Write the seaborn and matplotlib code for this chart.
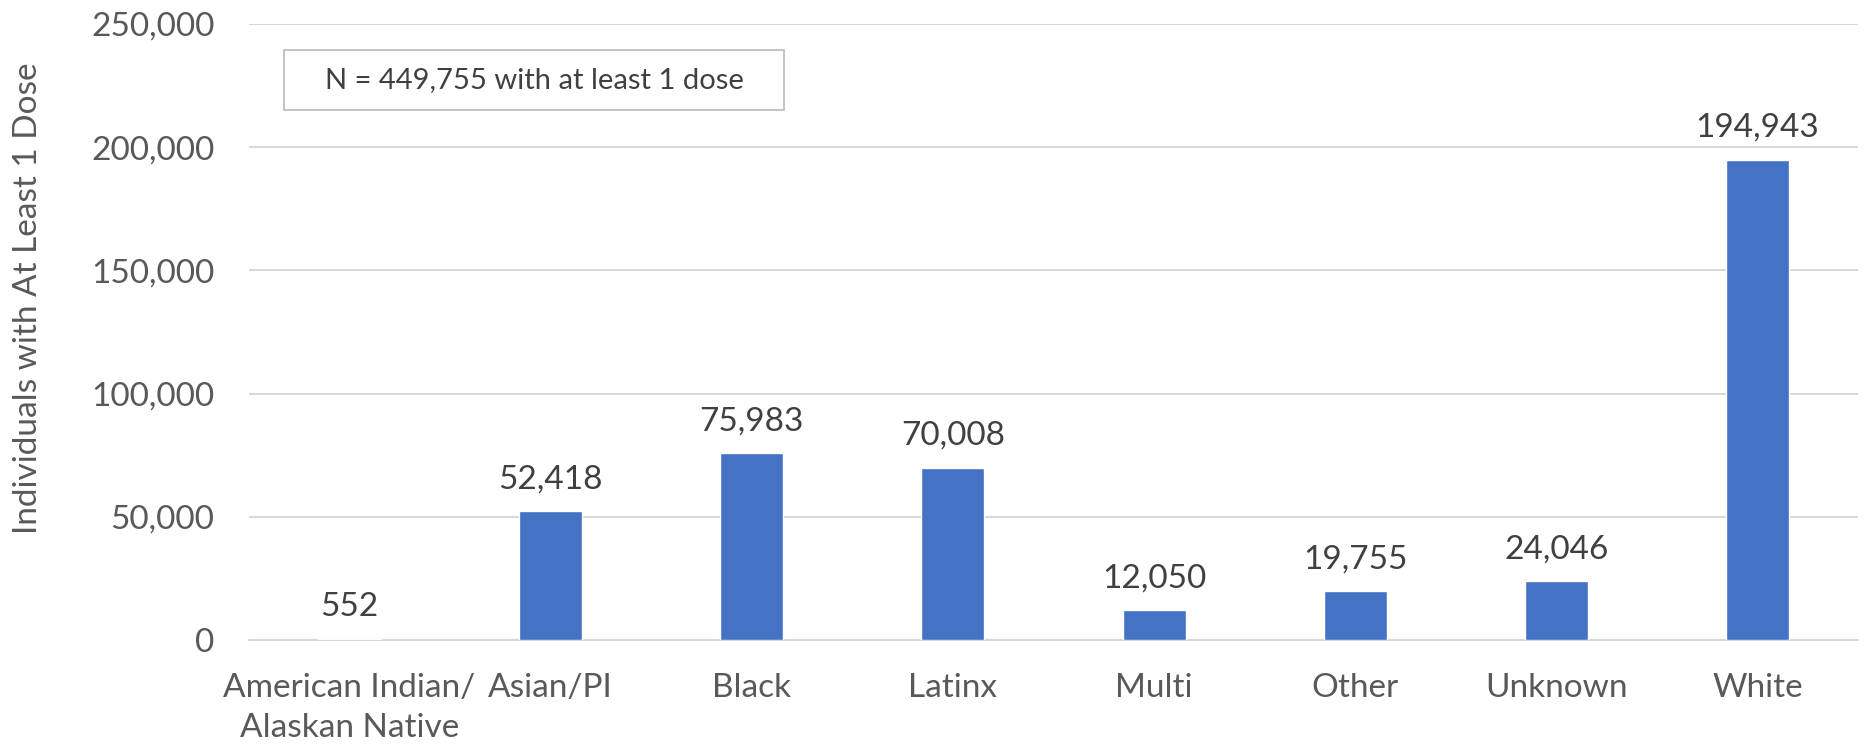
import matplotlib
matplotlib.use("Agg")
import matplotlib.pyplot as plt
from matplotlib.patches import Rectangle
import seaborn as sns
import pandas as pd

categories = ["American Indian/\nAlaskan Native", "Asian/PI", "Black", "Latinx",
              "Multi", "Other", "Unknown", "White"]
values = [552, 52418, 75983, 70008, 12050, 19755, 24046, 194943]
y_ticks = [0, 50000, 100000, 150000, 200000, 250000]
y_label = "Individuals with At Least 1 Dose"
note = "N = 449,755 with at least 1 dose"

sns.set_theme(style="white")
plt.rcParams['font.family'] = ['Lato', 'DejaVu Sans']

df = pd.DataFrame({"cat": categories, "val": values})

W, H = 1868, 748
fig = plt.figure(figsize=(W / 100, H / 100), dpi=100)
ax = fig.add_axes([249 / W, 1 - 640 / H, (1858 - 249) / W, (640 - 24) / H])

sns.barplot(data=df, x="cat", y="val", color="#4472C4", saturation=1,
            width=0.313, ax=ax, zorder=3)

ax.set_ylim(0, 250000)
ax.set_xlim(-0.5, len(categories) - 0.5)
ax.set_yticks(y_ticks)
ax.set_yticklabels([f"{v:,}" for v in y_ticks])
ax.yaxis.grid(True, color="#D9D9D9", linewidth=1.5, zorder=0)
ax.set_axisbelow(True)
for s in ["top", "right", "left"]:
    ax.spines[s].set_visible(False)
ax.spines["bottom"].set_color("#D9D9D9")
ax.spines["bottom"].set_linewidth(1.5)

ax.tick_params(axis="y", length=0, pad=25, labelsize=24, labelcolor="#595959")
ax.tick_params(axis="x", length=0, pad=24, labelsize=24, labelcolor="#595959")
for lbl in ax.get_xticklabels():
    lbl.set_linespacing(1.4)

ax.set_xlabel("")
ax.set_ylabel(y_label, fontsize=24, color="#595959")
ax.yaxis.set_label_coords(-0.128, 0.555)

for container in ax.containers:
    ax.bar_label(container, labels=[f"{v:,}" for v in values], padding=12,
                 fontsize=24, color="#404040")

fig.add_artist(Rectangle((284 / W, 1 - 110 / H), 500 / W, 60 / H,
                         transform=fig.transFigure, facecolor="white",
                         edgecolor="#BFBFBF", linewidth=1.3, zorder=5))
fig.text(534 / W, 1 - 80 / H, note, ha="center", va="center",
         fontsize=21, color="#404040", zorder=6)

fig.savefig("out.png", dpi=100, facecolor="white")
